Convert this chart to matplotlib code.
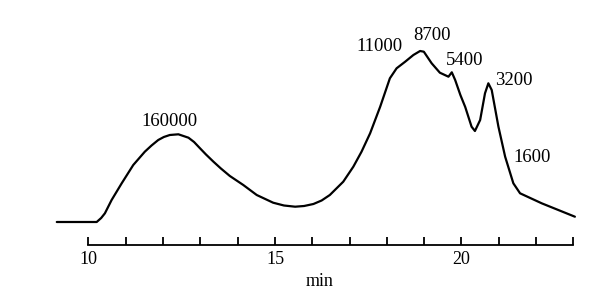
import matplotlib
matplotlib.use("Agg")
import matplotlib.pyplot as plt

# retention time (min) and detector signal (arbitrary units)
time_min = [9.15, 10.22, 10.34, 10.44, 10.62, 10.89, 11.20, 11.51, 11.69, 11.87,
            12.02, 12.18, 12.41, 12.68, 12.83, 12.99, 13.15, 13.35, 13.55, 13.79,
            14.15, 14.51, 14.95, 15.24, 15.54, 15.78, 16.03, 16.25, 16.47,
            16.83, 17.10, 17.32, 17.55, 17.82, 18.08, 18.26, 18.49, 18.71, 18.89,
            18.99, 19.20, 19.42, 19.65, 19.74, 19.83, 19.97, 20.10, 20.27, 20.36,
            20.50, 20.63, 20.72, 20.81, 20.99, 21.17, 21.39, 21.57, 22.15, 23.04]
signal = [0, 0, 4, 8.7, 22, 38.7, 57, 70.3, 76.5, 82,
          85, 87, 87.7, 84.3, 80, 73.7, 67.5, 60.3, 53.5, 46,
          37, 27, 19.3, 16.5, 15.3, 16, 18, 21.5, 27,
          40.3, 55.3, 70.3, 88.7, 115.3, 143.7, 153.7, 160.3, 167, 171,
          170.3, 158.7, 149.3, 145.3, 149.7, 142, 127, 115, 95.3, 91,
          102, 128.7, 138.7, 132, 95.3, 65.3, 38.7, 28.7, 18.7, 5.3]

# molecular-weight annotations
peak_labels = ["160000", "11000", "8700", "5400", "3200", "1600"]
label_x = [12.18, 17.79, 19.21, 20.08, 21.41, 21.88]
label_y = [100, 175.3, 186.5, 161.5, 141.5, 64.5]

tick_values = list(range(10, 24))
tick_labels = ["10" if t == 10 else "15" if t == 15 else "20" if t == 20 else "" for t in tick_values]

plt.rcParams['font.family'] = ['Liberation Serif', 'DejaVu Serif']

fig = plt.figure(figsize=(6.0, 3.08), dpi=100)
ax = fig.add_axes([50/600, 1 - 245/308, 540/600, 225/308])

ax.plot(time_min, signal, color='black', linewidth=1.6,
        solid_joinstyle='round', solid_capstyle='round')

for lab, lx, ly in zip(peak_labels, label_x, label_y):
    ax.text(lx, ly, lab, ha='center', va='center', fontsize=13.5)

ax.set_xlim(8.968, 23.445)
ax.set_ylim(-23, 202)

for s in ['left', 'right', 'top']:
    ax.spines[s].set_visible(False)
ax.spines['bottom'].set_bounds(10, 23)
ax.spines['bottom'].set_linewidth(1.3)
ax.set_yticks([])
ax.set_xticks(tick_values)
ax.set_xticklabels(tick_labels, fontsize=13)
ax.tick_params(axis='x', direction='in', length=6, width=1.3, pad=4)
ax.set_xlabel('min', fontsize=13, labelpad=4)

fig.savefig('out.png', dpi=100)
